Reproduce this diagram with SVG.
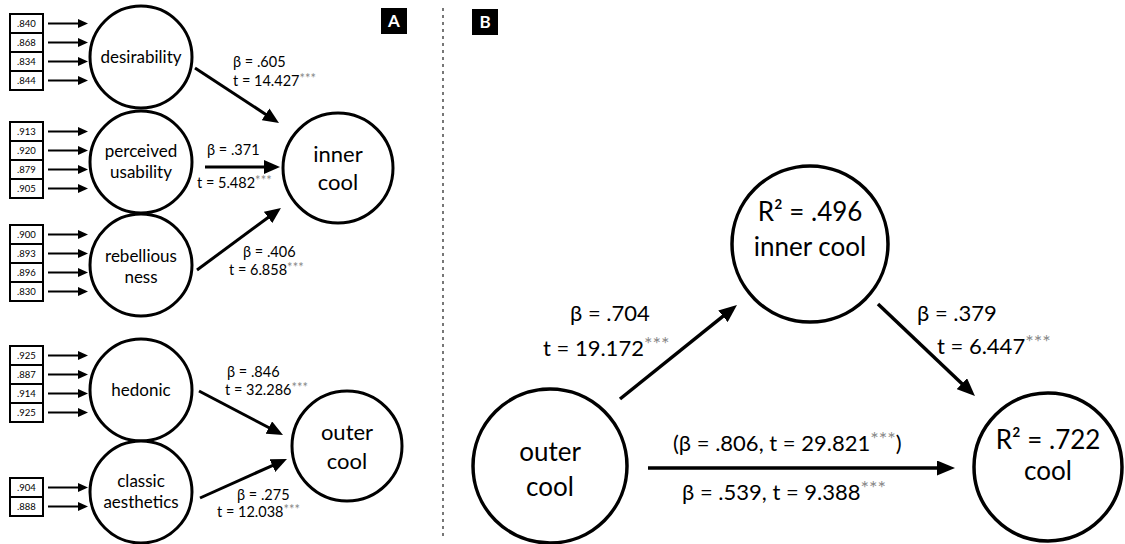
<svg xmlns="http://www.w3.org/2000/svg" width="1125" height="544" viewBox="0 0 1125 544">
<style>
text{font-family:Lato,"Open Sans","Liberation Sans",sans-serif;fill:#000}
.node circle{fill:#fff;stroke:#000;stroke-width:3}
.nodeB circle{fill:#fff;stroke:#000;stroke-width:3.5}
.n17{font-size:17px;text-anchor:middle}
.n22{font-size:22px;text-anchor:middle}
.n26{font-size:26px;text-anchor:middle}
.box rect{fill:#fff;stroke:#000;stroke-width:2}
.box text{font-size:9.5px;text-anchor:middle}
.in{stroke:#000;stroke-width:2;marker-end:url(#hs)}
.ea{stroke:#000;stroke-width:3;marker-end:url(#hm)}
.eb{stroke:#000;stroke-width:3.5;marker-end:url(#hb)}
.la{font-size:14.5px}
.lb{font-size:22px}
.st{fill:#888}
</style>
<defs>
<marker id="hs" markerUnits="userSpaceOnUse" markerWidth="10" markerHeight="9" refX="2" refY="4.5" orient="auto"><path d="M0,0 L10,4.5 L0,9 z" fill="#000"/></marker>
<marker id="hm" markerUnits="userSpaceOnUse" markerWidth="16" markerHeight="14" refX="3" refY="7" orient="auto"><path d="M0,0 L16,7 L0,14 z" fill="#000"/></marker>
<marker id="hb" markerUnits="userSpaceOnUse" markerWidth="18" markerHeight="15" refX="3" refY="7.5" orient="auto"><path d="M0,0 L18,7.5 L0,15 z" fill="#000"/></marker>
</defs>

<!-- divider and panel labels -->
<line x1="443" y1="8" x2="443" y2="540" stroke="#777" stroke-width="2" stroke-dasharray="3,4"/>
<g id="labelA"><rect x="381" y="8" width="26" height="26" fill="#000"/><text x="394" y="27" font-size="17" font-weight="bold" text-anchor="middle" style="fill:#fff">A</text></g>
<g id="labelB"><rect x="472" y="9" width="26" height="26" fill="#000"/><text x="485" y="28" font-size="17" font-weight="bold" text-anchor="middle" style="fill:#fff">B</text></g>

<!-- indicator boxes -->
<g id="boxes-desirability" class="box">
<rect x="10" y="14" width="33" height="19"/><text x="26.5" y="27">.840</text>
<rect x="10" y="33" width="33" height="19"/><text x="26.5" y="46">.868</text>
<rect x="10" y="52" width="33" height="19"/><text x="26.5" y="65">.834</text>
<rect x="10" y="71" width="33" height="19"/><text x="26.5" y="84">.844</text>
</g>
<g id="boxes-usability" class="box">
<rect x="10" y="122" width="33" height="19"/><text x="26.5" y="135">.913</text>
<rect x="10" y="141" width="33" height="19"/><text x="26.5" y="154">.920</text>
<rect x="10" y="160" width="33" height="19"/><text x="26.5" y="173">.879</text>
<rect x="10" y="179" width="33" height="19"/><text x="26.5" y="192">.905</text>
</g>
<g id="boxes-rebelliousness" class="box">
<rect x="10" y="225" width="33" height="19"/><text x="26.5" y="238">.900</text>
<rect x="10" y="244" width="33" height="19"/><text x="26.5" y="257">.893</text>
<rect x="10" y="263" width="33" height="19"/><text x="26.5" y="276">.896</text>
<rect x="10" y="282" width="33" height="19"/><text x="26.5" y="295">.830</text>
</g>
<g id="boxes-hedonic" class="box">
<rect x="10" y="346" width="33" height="19"/><text x="26.5" y="359">.925</text>
<rect x="10" y="365" width="33" height="19"/><text x="26.5" y="378">.887</text>
<rect x="10" y="384" width="33" height="19"/><text x="26.5" y="397">.914</text>
<rect x="10" y="403" width="33" height="19"/><text x="26.5" y="416">.925</text>
</g>
<g id="boxes-aesthetics" class="box">
<rect x="10" y="478" width="33" height="19"/><text x="26.5" y="491">.904</text>
<rect x="10" y="497" width="33" height="19"/><text x="26.5" y="510">.888</text>
</g>

<!-- connectors -->
<g id="connectors">
<line class="in" x1="48" y1="23.5" x2="80" y2="23.5"/>
<line class="in" x1="48" y1="42.5" x2="80" y2="42.5"/>
<line class="in" x1="48" y1="61.5" x2="80" y2="61.5"/>
<line class="in" x1="48" y1="80.5" x2="80" y2="80.5"/>
<line class="in" x1="48" y1="131.5" x2="80" y2="131.5"/>
<line class="in" x1="48" y1="150.5" x2="80" y2="150.5"/>
<line class="in" x1="48" y1="169.5" x2="80" y2="169.5"/>
<line class="in" x1="48" y1="188.5" x2="80" y2="188.5"/>
<line class="in" x1="48" y1="234.5" x2="80" y2="234.5"/>
<line class="in" x1="48" y1="253.5" x2="80" y2="253.5"/>
<line class="in" x1="48" y1="272.5" x2="80" y2="272.5"/>
<line class="in" x1="48" y1="291.5" x2="80" y2="291.5"/>
<line class="in" x1="48" y1="355.5" x2="80" y2="355.5"/>
<line class="in" x1="48" y1="374.5" x2="80" y2="374.5"/>
<line class="in" x1="48" y1="393.5" x2="80" y2="393.5"/>
<line class="in" x1="48" y1="412.5" x2="80" y2="412.5"/>
<line class="in" x1="48" y1="487.5" x2="80" y2="487.5"/>
<line class="in" x1="48" y1="506.5" x2="80" y2="506.5"/>

<line class="ea" x1="195" y1="68" x2="268.1" y2="115.9"/>
<line class="ea" x1="205" y1="167" x2="267" y2="167"/>
<line class="ea" x1="197" y1="270" x2="270.5" y2="215.7"/>
<line class="ea" x1="199" y1="391" x2="271.5" y2="429"/>
<line class="ea" x1="200" y1="498" x2="275.1" y2="464.3"/>

<line class="eb" x1="620" y1="399" x2="725.3" y2="314.4"/>
<line class="eb" x1="878" y1="304" x2="964.1" y2="385.7"/>
<line class="eb" x1="648" y1="468" x2="940" y2="468"/>
</g>

<!-- connector labels -->
<g id="edge-labels">
<text class="la" x="233" y="67">β = .605</text>
<text class="la" x="233" y="86">t = 14.427<tspan class="st" font-size="13" dy="-3">***</tspan></text>
<text class="la" x="207" y="155">β = .371</text>
<text class="la" x="197" y="188">t = 5.482<tspan class="st" font-size="13" dy="-3">***</tspan></text>
<text class="la" x="243" y="257">β = .406</text>
<text class="la" x="229" y="275">t = 6.858<tspan class="st" font-size="13" dy="-3">***</tspan></text>
<text class="la" x="227" y="377">β = .846</text>
<text class="la" x="225" y="395">t = 32.286<tspan class="st" font-size="13" dy="-3">***</tspan></text>
<text class="la" x="237" y="500">β = .275</text>
<text class="la" x="217" y="517">t = 12.038<tspan class="st" font-size="13" dy="-3">***</tspan></text>

<text class="lb" x="570" y="321">β = .704</text>
<text class="lb" x="543" y="356">t = 19.172<tspan class="st" font-size="20" dy="-5">***</tspan></text>
<text class="lb" x="917" y="321">β = .379</text>
<text class="lb" x="937" y="354">t = 6.447<tspan class="st" font-size="20" dy="-5">***</tspan></text>
<text class="lb" x="673" y="451">(β = .806, t = 29.821<tspan class="st" font-size="20" dy="-5">***</tspan><tspan dy="5">)</tspan></text>
<text class="lb" x="682" y="500">β = .539, t = 9.388<tspan class="st" font-size="20" dy="-5">***</tspan></text>
</g>

<!-- panel A nodes -->
<g id="desirability" class="node"><circle cx="141" cy="57" r="51"/><text class="n17" x="141" y="63">desirability</text></g>
<g id="perceived-usability" class="node"><circle cx="141" cy="162" r="51"/><text class="n17" x="141" y="157">perceived</text><text class="n17" x="141" y="178">usability</text></g>
<g id="rebelliousness" class="node"><circle cx="141" cy="265" r="51"/><text class="n17" x="141" y="262">rebellious</text><text class="n17" x="141" y="283">ness</text></g>
<g id="hedonic" class="node"><circle cx="141" cy="390" r="51"/><text class="n17" x="141" y="396">hedonic</text></g>
<g id="classic-aesthetics" class="node"><circle cx="141" cy="492" r="51"/><text class="n17" x="141" y="487">classic</text><text class="n17" x="141" y="508">aesthetics</text></g>
<g id="inner-cool-A" class="node"><circle cx="338" cy="168" r="55"/><text class="n22" x="338" y="162">inner</text><text class="n22" x="338" y="190">cool</text></g>
<g id="outer-cool-A" class="node"><circle cx="347" cy="446" r="55"/><text class="n22" x="347" y="440">outer</text><text class="n22" x="347" y="469">cool</text></g>

<!-- panel B nodes -->
<g id="inner-cool-B" class="nodeB"><circle cx="810" cy="244" r="78"/><text class="n26" x="810" y="221">R² = .496</text><text class="n26" x="810" y="256" font-size="27">inner cool</text></g>
<g id="outer-cool-B" class="nodeB"><circle cx="550" cy="466" r="77"/><text class="n26" x="550" y="461">outer</text><text class="n26" x="550" y="496">cool</text></g>
<g id="cool-B" class="nodeB"><circle cx="1048" cy="467" r="74"/><text class="n26" x="1048" y="449">R² = .722</text><text class="n26" x="1048" y="480">cool</text></g>
</svg>
